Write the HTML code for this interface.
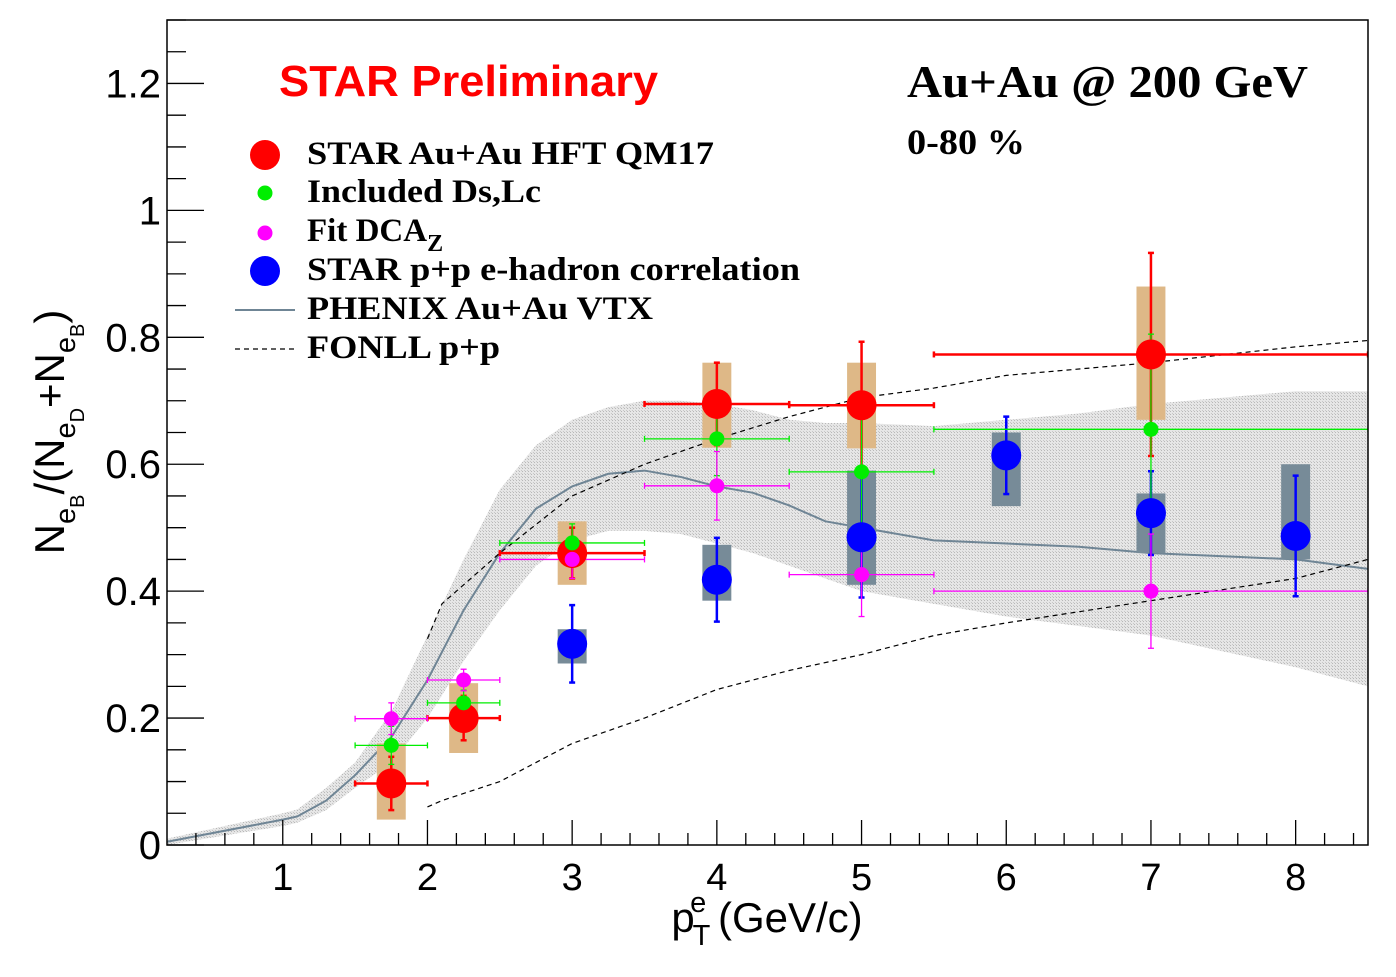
<!DOCTYPE html>
<html><head><meta charset="utf-8"><style>
html,body{margin:0;padding:0;background:#fff;}
svg text{font-family:"Liberation Sans",sans-serif;}
.serif{font-family:"Liberation Serif",serif;font-weight:bold;}
</style></head><body>
<svg id="chart" width="1396" height="972" viewBox="0 0 1396 972" xmlns="http://www.w3.org/2000/svg">
<defs>
<pattern id="hatch" width="3" height="3" patternUnits="userSpaceOnUse"><rect width="3" height="3" fill="#e6e6e6"/><rect width="1" height="1" fill="#b8b8b8"/><rect x="2" y="2" width="1" height="1" fill="#c8c8c8"/></pattern>
<clipPath id="clip"><rect x="167" y="20" width="1201" height="825"/></clipPath>
</defs>
<g id="band" clip-path="url(#clip)"></g>
<g id="lines" clip-path="url(#clip)"></g>
<g id="marks" clip-path="url(#clip)"></g>
<rect x="167" y="20" width="1201" height="825" fill="none" stroke="#000" stroke-width="1.5"/>
<g id="axes"></g>
<text x="767" y="932" font-size="42" text-anchor="middle">p<tspan font-size="29" dy="13" dx="-2">T</tspan><tspan font-size="29" dy="-33" dx="-17">e</tspan><tspan dy="20"> (GeV/c)</tspan></text>
<text transform="translate(64,432) rotate(-90)" font-size="42" text-anchor="middle">N<tspan font-size="29" dy="11">e</tspan><tspan font-size="20" dy="9">B</tspan><tspan dy="-20">/(N</tspan><tspan font-size="29" dy="11">e</tspan><tspan font-size="20" dy="9">D</tspan><tspan dy="-20">+N</tspan><tspan font-size="29" dy="11">e</tspan><tspan font-size="20" dy="9">B</tspan><tspan dy="-20">)</tspan></text>
<text x="279" y="96" font-size="44" font-weight="bold" fill="#ff0000" textLength="379" lengthAdjust="spacingAndGlyphs">STAR Preliminary</text>
<text x="907" y="97" font-size="46" class="serif" textLength="401" lengthAdjust="spacingAndGlyphs">Au+Au @ 200 GeV</text>
<text x="907" y="154" font-size="36" class="serif" textLength="118" lengthAdjust="spacingAndGlyphs">0-80 %</text>
<g>
<circle cx="265" cy="155" r="15" fill="#ff0000"/>
<text x="307" y="164" font-size="33" class="serif" textLength="407" lengthAdjust="spacingAndGlyphs">STAR Au+Au HFT QM17</text>
<circle cx="265" cy="193" r="7.5" fill="#00ee00"/>
<text x="307" y="202" font-size="33" class="serif" textLength="234" lengthAdjust="spacingAndGlyphs">Included Ds,Lc</text>
<circle cx="265" cy="233" r="7.5" fill="#ff00ff"/>
<text x="307" y="241" font-size="33" class="serif">Fit DCA<tspan font-size="24" dy="10">Z</tspan></text>
<circle cx="265" cy="271" r="15" fill="#0000ff"/>
<text x="307" y="280" font-size="33" class="serif" textLength="493" lengthAdjust="spacingAndGlyphs">STAR p+p e-hadron correlation</text>
<line x1="235" y1="310" x2="295" y2="310" stroke="#6f8595" stroke-width="2"/>
<text x="307" y="319" font-size="33" class="serif" textLength="346" lengthAdjust="spacingAndGlyphs">PHENIX Au+Au VTX</text>
<line x1="235" y1="349" x2="295" y2="349" stroke="#000" stroke-width="1.3" stroke-dasharray="5,4"/>
<text x="307" y="358" font-size="33" class="serif" textLength="193" lengthAdjust="spacingAndGlyphs">FONLL p+p</text>
</g>
</svg>
<script>
// Data arrays
const xTicks = [1,2,3,4,5,6,7,8];
const yTicks = [0,0.2,0.4,0.6,0.8,1,1.2];
const yTickLabels = ["0","0.2","0.4","0.6","0.8","1","1.2"];
const bandX = [0.2,1.0,1.1,1.3,1.5,1.75,2.0,2.25,2.5,2.75,3.0,3.25,3.5,3.75,4.0,4.25,4.5,4.75,5.0,5.5,6.0,6.5,7.0,7.5,8.0,8.5];
const bandMid = [0.005,0.04,0.045,0.07,0.11,0.17,0.26,0.37,0.46,0.53,0.565,0.585,0.59,0.58,0.565,0.555,0.535,0.51,0.5,0.48,0.475,0.47,0.46,0.455,0.45,0.435];
const bandHi = [0.01,0.05,0.056,0.09,0.13,0.21,0.33,0.45,0.56,0.63,0.67,0.69,0.70,0.70,0.695,0.685,0.67,0.665,0.665,0.66,0.67,0.68,0.695,0.705,0.715,0.715];
const bandLo = [0.0,0.03,0.035,0.055,0.09,0.13,0.20,0.29,0.37,0.44,0.48,0.495,0.495,0.49,0.475,0.46,0.44,0.42,0.40,0.38,0.36,0.345,0.33,0.305,0.28,0.25];
const fonllX = [2.0,2.1,2.5,3.0,3.5,4.0,4.5,5.0,5.5,6.0,7.0,8.0,8.5];
const fonllHi = [0.325,0.38,0.46,0.55,0.60,0.64,0.675,0.705,0.72,0.74,0.76,0.785,0.795];
const fonllLo = [0.06,0.07,0.10,0.16,0.20,0.245,0.275,0.30,0.33,0.35,0.385,0.42,0.45];
// STAR Au+Au HFT
const hftX = [1.75,2.25,3,4,5,7];
const hftY = [0.097,0.20,0.46,0.695,0.693,0.773];
const hftXlo = [1.5,2.0,2.5,3.5,4.5,5.5];
const hftXhi = [2.0,2.5,3.5,4.5,5.5,8.5];
const hftErr = [0.042,0.035,0.04,0.065,0.1,0.16];
const hftSysLo = [0.04,0.145,0.41,0.626,0.625,0.67];
const hftSysHi = [0.16,0.255,0.51,0.76,0.76,0.88];
// Included Ds,Lc
const dsX = [1.75,2.25,3,4,5,7];
const dsY = [0.157,0.224,0.476,0.64,0.588,0.655];
const dsXlo = [1.5,2.0,2.5,3.5,4.5,5.5];
const dsXhi = [2.0,2.5,3.5,4.5,5.5,8.5];
const dsErr = [0.03,0.02,0.03,0.058,0.09,0.15];
// Fit DCAz
const dcaX = [1.75,2.25,3,4,5,7];
const dcaY = [0.199,0.26,0.45,0.566,0.426,0.40];
const dcaXlo = [1.5,2.0,2.5,3.5,4.5,5.5];
const dcaXhi = [2.0,2.5,3.5,4.5,5.5,8.5];
const dcaErr = [0.025,0.017,0.03,0.054,0.066,0.09];
// STAR p+p
const ppX = [3,4,5,6,7,8];
const ppY = [0.317,0.418,0.485,0.614,0.523,0.487];
const ppErr = [0.061,0.066,0.095,0.061,0.066,0.095];
const ppSysLo = [0.286,0.385,0.41,0.534,0.46,0.45];
const ppSysHi = [0.34,0.473,0.59,0.65,0.554,0.6];

const X0=0.2,X1=8.5,PX0=167,PX1=1368,Y0=0,Y1=1.3,PY0=845,PY1=20;
const sx=v=>PX0+(v-X0)/(X1-X0)*(PX1-PX0);
const sy=v=>PY0-(v-Y0)/(Y1-Y0)*(PY0-PY1);
const NS="http://www.w3.org/2000/svg";
function mk(parent,tag,attrs){const e=document.createElementNS(NS,tag);for(const k in attrs)e.setAttribute(k,attrs[k]);parent.appendChild(e);return e;}
const band=document.getElementById('band'),lines=document.getElementById('lines'),marks=document.getElementById('marks'),axes=document.getElementById('axes');
let d='M'+bandX.map((x,i)=>sx(x)+','+sy(bandHi[i])).join(' L');
for(let i=bandX.length-1;i>=0;i--)d+=' L'+sx(bandX[i])+','+sy(bandLo[i]);
let e=mk(band,'path',{d:d+'Z',fill:'url(#hatch)'});


e=mk(lines,'polyline',{points:bandX.map((x,i)=>sx(x)+','+sy(bandMid[i])).join(' '),fill:'none',stroke:'#6f8595','stroke-width':2});


e=mk(lines,'polyline',{points:fonllX.map((x,i)=>sx(x)+','+sy(fonllHi[i])).join(' '),fill:'none',stroke:'#000','stroke-width':1.2,'stroke-dasharray':'5,4'});


e=mk(lines,'polyline',{points:fonllX.map((x,i)=>sx(x)+','+sy(fonllLo[i])).join(' '),fill:'none',stroke:'#000','stroke-width':1.2,'stroke-dasharray':'5,4'});


hftX.forEach((x,i)=>{const r=mk(marks,'rect',{x:sx(x-0.1),y:sy(hftSysHi[i]),width:sx(x+0.1)-sx(x-0.1),height:sy(hftSysLo[i])-sy(hftSysHi[i]),fill:'#deb887'});

});
ppX.forEach((x,i)=>{const r=mk(marks,'rect',{x:sx(x-0.1),y:sy(ppSysHi[i]),width:sx(x+0.1)-sx(x-0.1),height:sy(ppSysLo[i])-sy(ppSysHi[i]),fill:'#778b98'});

});
function errs(X,Y,E,XL,XH,col,w,name){X.forEach((x,i)=>{const g=mk(marks,'g',{stroke:col,'stroke-width':w});


const c=sx(x),t=sy(Y[i]+E[i]),b=sy(Y[i]-E[i]);mk(g,'line',{x1:c,y1:t,x2:c,y2:b});mk(g,'line',{x1:c-3,y1:t,x2:c+3,y2:t});mk(g,'line',{x1:c-3,y1:b,x2:c+3,y2:b});
if(XL){const l=sx(XL[i]),h=sx(XH[i]),m=sy(Y[i]);mk(g,'line',{x1:l,y1:m,x2:h,y2:m});mk(g,'line',{x1:l,y1:m-3,x2:l,y2:m+3});mk(g,'line',{x1:h,y1:m-3,x2:h,y2:m+3});}});}
function pts(X,Y,col,r,name){X.forEach((x,i)=>{const c=mk(marks,'circle',{cx:sx(x),cy:sy(Y[i]),r:r,fill:col});

});}
errs(hftX,hftY,hftErr,hftXlo,hftXhi,'#ff0000',2.5,'hft');
errs(ppX,ppY,ppErr,null,null,'#0000ff',2.5,'pp');
errs(dsX,dsY,dsErr,dsXlo,dsXhi,'#00ee00',1.3,'dslc');
errs(dcaX,dcaY,dcaErr,dcaXlo,dcaXhi,'#ff00ff',1.3,'dcaz');
pts(hftX,hftY,'#ff0000',15,'hft');
pts(ppX,ppY,'#0000ff',15,'pp');
pts(dsX,dsY,'#00ee00',7.5,'dslc');
pts(dcaX,dcaY,'#ff00ff',7.5,'dcaz');
for(let k=2;k<=42;k++){const v=k*0.2;const p=sx(v);const maj=k%5===0;
mk(axes,'line',{x1:p,y1:PY0,x2:p,y2:PY0-(maj?25:12),stroke:'#000','stroke-width':1.3});}
xTicks.forEach(v=>{const t=mk(axes,'text',{x:sx(v),y:890,'font-size':38,'text-anchor':'middle'});t.textContent=v;

});
for(let k=0;k<=26;k++){const v=k*0.05;const p=sy(v);const maj=k%4===0;
mk(axes,'line',{x1:PX0,y1:p,x2:PX0+(maj?37:19),y2:p,stroke:'#000','stroke-width':1.3});}
yTicks.forEach((v,i)=>{const t=mk(axes,'text',{x:161,y:sy(v)+14,'font-size':40,'text-anchor':'end'});t.textContent=yTickLabels[i];

});
</script>
</body></html>
